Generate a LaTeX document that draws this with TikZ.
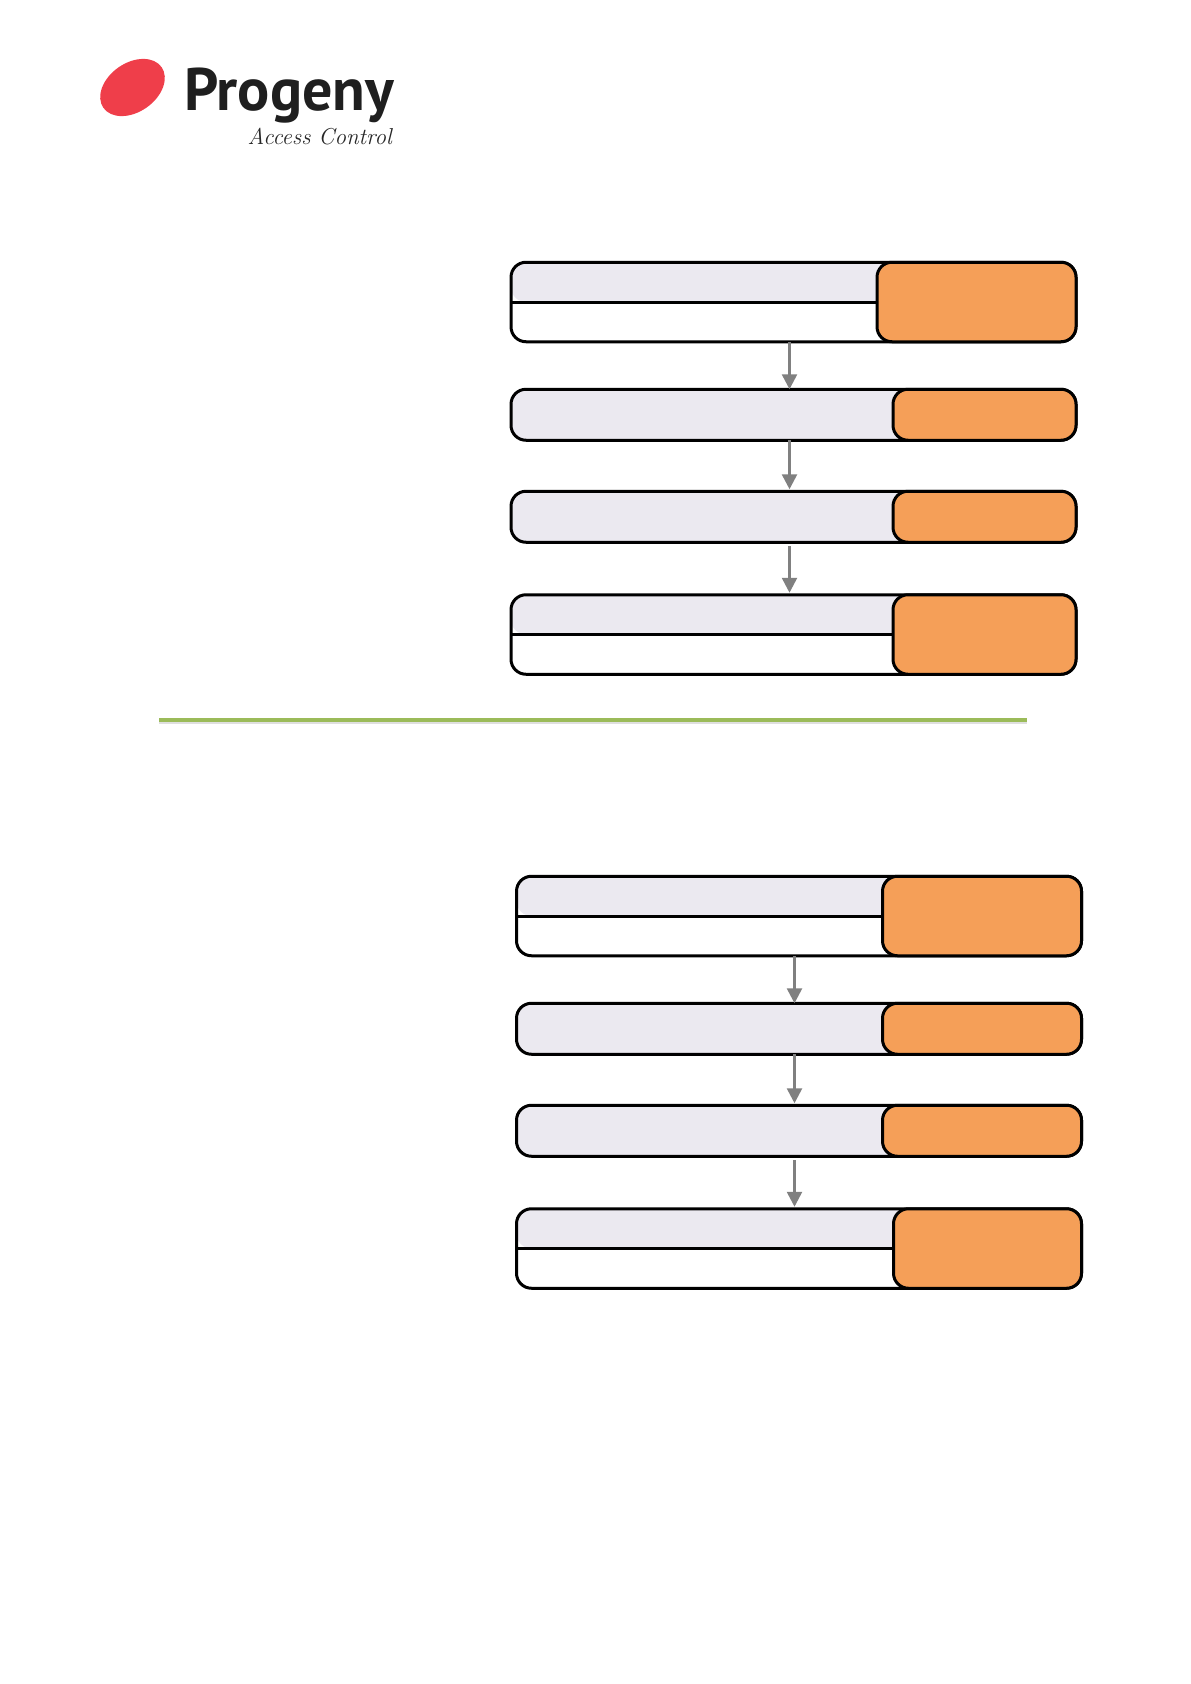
\documentclass[tikz,border=0pt]{standalone}
\usepackage{fontspec}
\setsansfont{PT Sans}
\usepackage{tikz}
\usetikzlibrary{arrows.meta, positioning, shapes.geometric, shadows}

\definecolor{barfill}{HTML}{EBE9F0}
\definecolor{tagfill}{HTML}{F59F58}
\definecolor{rulegreen}{HTML}{9BBB59}
\definecolor{logored}{HTML}{EF3E4A}

\begin{document}
\begin{tikzpicture}[
    x=1pt, y=-1pt,
    node distance=47pt,
    bar/.style={rectangle, draw=black, line width=3pt, rounded corners=15pt, outer sep=0pt, minimum width=565pt, minimum height=51pt, fill=barfill},
    splitbar/.style={bar, minimum height=79.5pt, fill=white, path picture={
        \fill[barfill] (path picture bounding box.north west) rectangle (path picture bounding box.east);
        \draw[line width=3pt] (path picture bounding box.west) -- (path picture bounding box.east);}},
    tag/.style={rectangle, draw=black, line width=3pt, rounded corners=15pt, outer sep=0pt, fill=tagfill, anchor=east},
    flow/.style={->, draw=gray, line width=2.6pt},
    >={Triangle[length=15pt, width=15pt]},
]
\useasboundingbox (0,0) rectangle (1191,1684);

% Logo
\node[ellipse, fill=logored, minimum width=71pt, minimum height=49pt, rotate=35] (mark) at (132.5,87.5) {};
\node[anchor=base west, font=\sffamily\bfseries\fontsize{60}{60}\selectfont, text=black!88, inner sep=0pt] (brand) at (184,110) {Progeny};
\node[anchor=east, font=\itshape\fontsize{23}{23}\selectfont, text=black!85, inner sep=0pt] (slogan) at (392,137) {Access Control};

% Upper chart
\node[splitbar] (a1) at (793.5,302) {};
\node[bar, below=47.5pt of a1] (a2) {};
\node[bar, below=51pt of a2] (a3) {};
\node[splitbar, below=52.5pt of a3] (a4) {};
\node[tag, minimum width=199pt, minimum height=79.5pt] (a1tag) at (a1.east) {};
\node[tag, minimum width=183pt, minimum height=51pt] (a2tag) at (a2.east) {};
\node[tag, minimum width=183pt, minimum height=51pt] (a3tag) at (a3.east) {};
\node[tag, minimum width=183pt, minimum height=79.5pt] (a4tag) at (a4.east) {};

% Upper arrows
\draw[flow] ([xshift=-4pt]a1.south) -- ([xshift=-4pt]a2.north);
\draw[flow, shorten >=2pt] ([xshift=-4pt]a2.south) -- ([xshift=-4pt]a3.north);
\draw[flow, shorten <=4pt, shorten >=2pt] ([xshift=-4pt]a3.south) -- ([xshift=-4pt]a4.north);

% Divider
\node[rectangle, fill=rulegreen, minimum width=868pt, minimum height=4pt, inner sep=0pt, drop shadow={shadow xshift=0pt, shadow yshift=-2pt, opacity=0.25}] (divider) at (593,719.5) {};

% Lower chart
\node[splitbar] (b1) at (799,916) {};
\node[bar, below=47.5pt of b1] (b2) {};
\node[bar, below=51pt of b2] (b3) {};
\node[splitbar, below=52.5pt of b3] (b4) {};
\node[tag, minimum width=199pt, minimum height=79.5pt] (b1tag) at (b1.east) {};
\node[tag, minimum width=199pt, minimum height=51pt] (b2tag) at (b2.east) {};
\node[tag, minimum width=199pt, minimum height=51pt] (b3tag) at (b3.east) {};
\node[tag, minimum width=188pt, minimum height=79.5pt] (b4tag) at (b4.east) {};

% Lower arrows
\draw[flow] ([xshift=-4.5pt]b1.south) -- ([xshift=-4.5pt]b2.north);
\draw[flow, shorten >=2pt] ([xshift=-4.5pt]b2.south) -- ([xshift=-4.5pt]b3.north);
\draw[flow, shorten <=4pt, shorten >=2pt] ([xshift=-4.5pt]b3.south) -- ([xshift=-4.5pt]b4.north);

\end{tikzpicture}
\end{document}
